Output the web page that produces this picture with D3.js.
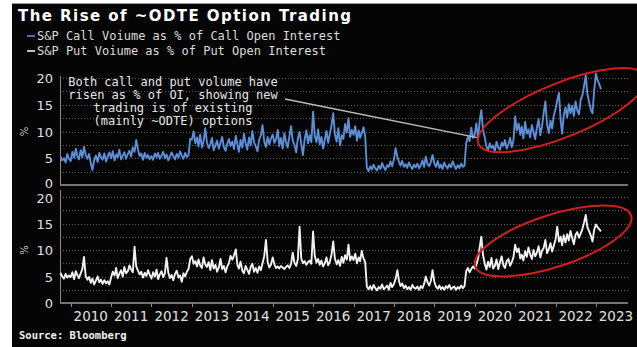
<html>
<head>
<meta charset="UTF-8"/>
<script src="https://d3js.org/d3.v7.min.js"></script>
<title>The Rise of ~ODTE Option Trading</title>
<style>
body { margin: 0; background: #fff; }
text { fill: #e6e6e6; }
.grid line { stroke: #5e5e5e; stroke-dasharray: 1 2; shape-rendering: crispEdges; }
.axis path { display: none; }
.axis line { stroke: #8a8a8a; }
.axis text { font-family: "DejaVu Sans"; font-size: 13px; fill: #e0e0e0; }
.mono { font-family: "DejaVu Sans Mono"; }
</style>
</head>
<body>
<svg id='big' width=637 height=347></svg>

<script>
'use strict';

// semi-monthly readings, first point Oct 2009
var callVol = [
  5.3, 4.6, 5.0, 4.2, 5.8, 4.9,
  4.5, 6.2, 5.1, 6.8, 5.4, 4.8, 6.5, 5.2, 7.1, 5.6, 4.9, 5.8, 4.1, 2.8, 4.6, 5.5, 4.3, 6.0, 5.2, 4.7, 5.9, 4.4, 5.3, 6.1,
  5.0, 6.3, 4.6, 5.7, 5.2, 6.6, 4.8, 5.5, 6.1, 4.9, 5.8, 6.4, 5.3, 7.0, 6.2, 8.4, 6.6, 5.4, 5.9, 4.7, 6.0, 5.1, 5.6, 4.8,
  5.4, 4.7, 5.9, 5.2, 6.0, 4.9, 5.5, 6.2, 5.0, 5.7, 4.6, 5.3, 6.1, 5.4, 4.8, 5.8, 5.1, 6.3, 5.5, 4.9, 6.0, 5.2, 5.6, 8.6,
  8.5, 10.0, 7.8, 8.9, 7.2, 9.4, 7.0, 8.2, 10.6, 8.0, 6.9, 7.6, 8.8, 6.5, 7.4, 8.3, 6.8, 7.9, 9.0, 7.1, 6.4, 7.7, 8.6, 7.3,
  8.1, 6.7, 9.2, 7.5, 6.2, 8.4, 7.0, 9.6, 7.8, 6.6, 8.9, 7.4, 10.1, 8.0, 7.2, 6.3, 8.5, 9.3, 11.2, 8.2, 7.1, 9.0, 7.6, 8.7,
  9.4, 7.9, 8.6, 10.3, 7.3, 8.8, 6.8, 9.7, 8.1, 7.0, 9.1, 11.0, 8.3, 7.5, 6.1, 8.7, 9.9, 7.7, 5.6, 8.4, 10.2, 7.8, 9.3, 8.0,
  13.7, 9.2, 8.0, 10.4, 7.6, 9.0, 6.8, 8.5, 10.1, 7.9, 9.6, 11.2, 13.4, 9.5, 8.1, 10.6, 7.4, 9.3, 8.6, 11.4, 9.8, 12.5, 9.0, 10.3,
  9.4, 11.0, 8.3, 10.2, 8.8, 9.7, 10.8, 9.1, 3.2, 2.6, 3.5, 2.9, 3.8, 3.1, 2.7, 3.6, 3.0, 4.1, 3.3, 2.8, 3.7, 3.4, 4.4, 3.5,
  4.8, 6.9, 5.2, 4.3, 3.6, 4.5, 3.4, 3.9, 3.2, 4.2, 3.5, 3.0, 3.8, 3.3, 4.0, 3.1, 3.7, 4.6, 3.4, 5.3, 3.9, 3.5, 4.3, 5.6,
  4.1, 3.4, 4.5, 3.2, 3.8, 3.0, 4.2, 3.5, 3.1, 3.9, 3.3, 4.4, 3.6, 3.0, 3.7, 3.2, 4.0, 3.4, 3.6, 7.8, 9.0, 8.2, 10.7, 8.8,
  9.4, 11.5, 8.6, 12.2, 14.0, 10.3, 8.9, 7.2, 6.5, 7.8, 6.9, 7.4, 6.2, 8.1, 7.0, 6.6, 7.9, 7.3, 8.4, 6.8, 7.6, 8.8, 7.1, 8.3,
  12.8, 10.2, 11.5, 9.4, 10.9, 8.7, 11.8, 9.6, 10.4, 8.9, 11.2, 9.8, 8.6, 10.7, 12.3, 9.3, 11.0, 13.5, 15.6, 11.4, 9.7, 12.0, 10.6, 12.9,
  14.2, 15.8, 17.2, 12.1, 9.6, 13.0, 14.5, 12.6, 15.1, 13.4, 14.8, 12.9, 15.6, 14.0, 13.2, 15.9, 16.8, 18.5, 20.5, 17.0, 15.4, 14.1, 13.4, 17.6,
  20.8, 19.6, 18.8, 17.9
];

var putVol = [
  5.7, 5.0, 4.6, 5.5, 4.8, 5.2,
  4.9, 5.8, 4.5, 6.0, 5.3, 4.7, 5.6, 6.4, 8.7, 5.1, 4.4, 4.9, 3.8, 4.6, 3.5, 4.2, 5.0, 3.9, 4.4, 3.6, 4.3, 3.7, 4.1, 3.5,
  4.8, 5.9, 5.2, 6.6, 4.7, 5.5, 6.2, 5.0, 6.8, 5.6, 6.0, 7.1, 6.3, 5.8, 10.6, 6.9, 6.1, 5.4, 5.9, 4.8, 5.7, 5.1, 6.2, 5.3,
  4.6, 5.8, 5.0, 6.3, 4.5, 5.4, 6.0, 4.9, 5.6, 8.5, 5.7, 4.7, 5.3, 4.3, 5.5, 6.1, 4.8, 5.2, 4.0, 5.6, 5.0, 5.9, 6.4, 8.3,
  8.8, 7.4, 7.9, 6.9, 8.2, 7.1, 6.6, 8.6, 7.3, 6.8, 7.7, 6.2, 8.1, 6.5, 7.2, 5.9, 6.7, 8.3, 6.4, 7.0, 5.8, 6.9, 7.5, 8.9,
  8.2, 9.0, 10.1, 7.2, 6.5, 7.8, 6.1, 5.6, 7.0, 6.3, 5.5, 6.8, 7.4, 5.9, 6.6, 5.7, 6.9, 6.2, 7.5, 8.8, 11.9, 7.8, 6.7, 7.2,
  8.6, 7.3, 6.6, 6.9, 6.5, 7.0, 6.7, 6.4, 6.8, 7.1, 6.6, 7.4, 9.5, 7.6, 7.0, 8.2, 14.4, 8.4, 7.5, 7.9, 7.2, 7.7, 8.0, 7.4,
  13.5, 8.9, 7.6, 8.3, 7.2, 8.0, 6.9, 7.5, 8.6, 7.1, 7.8, 9.2, 11.6, 8.4, 7.3, 8.1, 7.0, 8.7, 7.6, 9.0, 8.2, 11.0, 8.0, 8.8,
  8.1, 9.3, 7.5, 8.6, 7.9, 9.8, 8.4, 7.7, 3.1, 2.6, 3.2, 2.5, 3.4, 2.8, 2.4, 3.0, 2.7, 3.5, 2.6, 2.9, 3.3, 2.5, 3.8, 3.0,
  3.6, 4.5, 6.2, 4.1, 3.2, 3.7, 2.8, 3.3, 2.6, 3.0, 2.5, 3.4, 2.9, 2.7, 3.1, 2.5, 3.2, 2.8, 3.6, 5.0, 3.9, 3.3, 4.2, 6.2,
  4.0, 3.1, 2.7, 3.3, 2.6, 3.0, 2.5, 3.2, 2.8, 3.4, 2.6, 2.9, 3.1, 2.5, 3.0, 2.7, 3.3, 2.8, 3.2, 6.0, 6.6, 5.8, 6.4, 6.9,
  6.5, 7.2, 8.4, 10.6, 12.5, 9.1, 7.4, 6.3, 7.8, 6.8, 8.5, 6.5, 7.0, 8.2, 6.4, 7.6, 8.8, 7.1, 6.6, 7.9, 8.3, 7.0, 7.7, 8.6,
  11.0, 9.6, 10.3, 8.4, 9.1, 8.0, 9.8, 8.7, 10.5, 9.2, 8.3, 10.0, 8.8, 9.5, 10.7, 8.6, 9.9, 10.4, 11.9, 9.4, 10.2, 11.3, 9.7, 10.8,
  12.0, 14.4, 11.6, 12.5, 10.9, 12.8, 11.4, 13.0, 11.8, 13.6, 12.2, 11.1, 12.9, 13.4, 12.3, 13.1, 14.0, 15.2, 16.6, 14.3, 13.5, 12.7, 11.6, 13.8,
  14.8, 14.3, 13.9, 13.5
];

var years = [2010, 2011, 2012, 2013, 2014, 2015, 2016, 2017, 2018, 2019, 2020, 2021, 2022, 2023];
var yTicks = [0, 5, 10, 15, 20];
var gridVals = [2.5, 5, 7.5, 10, 12.5, 15, 17.5, 20];

var titleText = 'The Rise of ~ODTE Option Trading';
var legendText = ['S&P Call Voiume as % of Call Open Interest',
                  'S&P Put Voiume as % of Put Open Interest'];
var noteText = ['Both call and put volume have',
                'risen as % of OI, showing new',
                'trading is of existing',
                '(mainly ~ODTE) options'];

function dateOf(i){
	return new Date(2009, 9 + Math.floor(i / 2), i % 2 ? 16 : 1);
}

var svg = d3.select('#big');

svg.append('rect').attr('x', 12).attr('y', 3).attr('width', 625).attr('height', 344).attr('fill', '#050505');
svg.append('line').attr('x1', 12).attr('x2', 637).attr('y1', 3.5).attr('y2', 3.5)
	.attr('stroke', '#9a9a9a').attr('stroke-width', 1);

var sx = d3.scaleTime()
	.domain([new Date(2009, 8, 26), new Date(2023, 9, 18)])
	.range([60, 628]);

var panels = [
	{ vals: callVol, y: d3.scaleLinear().domain([0, 20]).range([185, 78]), top: 76, color: '#5b90d8' },
	{ vals: putVol, y: d3.scaleLinear().domain([0, 20]).range([303, 197]), top: 190, color: '#f2f2f2' }
];

panels.forEach(function(p, k){
	svg.append('g').attr('class', 'grid')
		.selectAll('line').data(gridVals).enter().append('line')
		.attr('x1', 60).attr('x2', 628)
		.attr('y1', function(d){ return Math.round(p.y(d)) + 0.5; })
		.attr('y2', function(d){ return Math.round(p.y(d)) + 0.5; });

	svg.append('line')
		.attr('x1', 60).attr('x2', 628)
		.attr('y1', p.y(0)).attr('y2', p.y(0))
		.attr('stroke', '#9a9a9a').attr('stroke-width', 1.5);

	svg.append('line')
		.attr('x1', 60.5).attr('x2', 60.5)
		.attr('y1', p.top).attr('y2', p.y(0))
		.attr('stroke', '#8a8a8a').attr('stroke-width', 1);

	svg.append('g').attr('class', 'axis')
		.attr('transform', 'translate(60,0)')
		.call(d3.axisLeft(p.y).tickValues(yTicks).tickSize(0).tickPadding(7))
		.selectAll('text').attr('dy', function(d){
			// nudge the stacked 0 / 20 labels apart a little
			if (k == 0 && d == 0) return '0.2em';
			if (k == 1 && d == 20) return '0.45em';
			return '0.36em';
		});

	svg.append('text')
		.attr('transform', 'translate(24,' + p.y(10) + ') rotate(-90)')
		.attr('text-anchor', 'middle')
		.attr('dy', '0.35em')
		.attr('font-family', 'DejaVu Sans')
		.attr('font-size', 10)
		.style('fill', '#cfcfcf')
		.text('%');

	var line = d3.line()
		.x(function(d, i){ return sx(dateOf(i)); })
		.y(function(d){ return p.y(d); });

	svg.append('path')
		.datum(p.vals)
		.attr('d', line)
		.attr('fill', 'none')
		.attr('stroke', p.color)
		.attr('stroke-width', 1.9)
		.attr('stroke-linejoin', 'round');
});

// x axis: ticks at year starts, labels mid-year
var yB = panels[1].y;
svg.append('g').selectAll('line').data(years).enter().append('line')
	.attr('x1', function(d){ return Math.round(sx(new Date(d, 0, 1))) + 0.5; })
	.attr('x2', function(d){ return Math.round(sx(new Date(d, 0, 1))) + 0.5; })
	.attr('y1', yB(0)).attr('y2', yB(0) + 4)
	.attr('stroke', '#8a8a8a');

svg.append('g').selectAll('text').data(years).enter().append('text')
	.attr('x', function(d){ return sx(new Date(d, 6, 1)); })
	.attr('y', 321)
	.attr('text-anchor', 'middle')
	.attr('font-family', 'DejaVu Sans')
	.attr('font-size', 13.5)
	.style('fill', '#e0e0e0')
	.text(function(d){ return d; });

// title + legend
svg.append('text')
	.attr('x', 18).attr('y', 21)
	.attr('font-family', 'DejaVu Sans').attr('font-weight', 'bold')
	.attr('font-size', 15)
	.attr('textLength', 333).attr('lengthAdjust', 'spacing')
	.style('fill', '#ffffff')
	.text(titleText);

legendText.forEach(function(t, i){
	var yy = 36 + i * 15;
	svg.append('line')
		.attr('x1', 27).attr('x2', 35).attr('y1', yy).attr('y2', yy)
		.attr('stroke', panels[i].color).attr('stroke-width', 1.6);
	svg.append('text')
		.attr('class', 'mono')
		.attr('x', 37).attr('y', yy + 4)
		.attr('font-size', 12)
		.style('fill', '#dcdcdc')
		.text(t);
});

// annotation
var yT = panels[0].y;
svg.append('line')
	.attr('x1', 285).attr('y1', 99)
	.attr('x2', sx(new Date(2020, 1, 5))).attr('y2', yT(8.8))
	.attr('stroke', '#bdbdbd').attr('stroke-width', 1.3);

svg.append('text')
	.attr('class', 'mono')
	.attr('text-anchor', 'middle')
	.attr('font-size', 12)
	.style('fill', '#e6e6e6')
	.selectAll('tspan').data(noteText).enter().append('tspan')
	.attr('x', 173)
	.attr('y', function(d, i){ return 85.5 + i * 13.3; })
	.text(function(d){ return d; });

// red ellipses
var rings = [
	{ t: new Date(2022, 1, 28), v: 14, y: yT, rx: 90, ry: 27, a: -22 },
	{ t: new Date(2021, 11, 10), v: 11.7, y: yB, rx: 82, ry: 26, a: -18 }
];
svg.append('g').selectAll('ellipse').data(rings).enter().append('ellipse')
	.attr('transform', function(d){
		return 'translate(' + sx(d.t) + ',' + d.y(d.v) + ') rotate(' + d.a + ')';
	})
	.attr('rx', function(d){ return d.rx; })
	.attr('ry', function(d){ return d.ry; })
	.attr('fill', 'none')
	.attr('stroke', '#d41e1e')
	.attr('stroke-width', 2);

svg.append('text')
	.attr('class', 'mono')
	.attr('x', 19).attr('y', 339)
	.attr('font-size', 10.5).attr('font-weight', 'bold')
	.style('fill', '#f0f0f0')
	.text('Source: Bloomberg');
</script>
</body>
</html>
